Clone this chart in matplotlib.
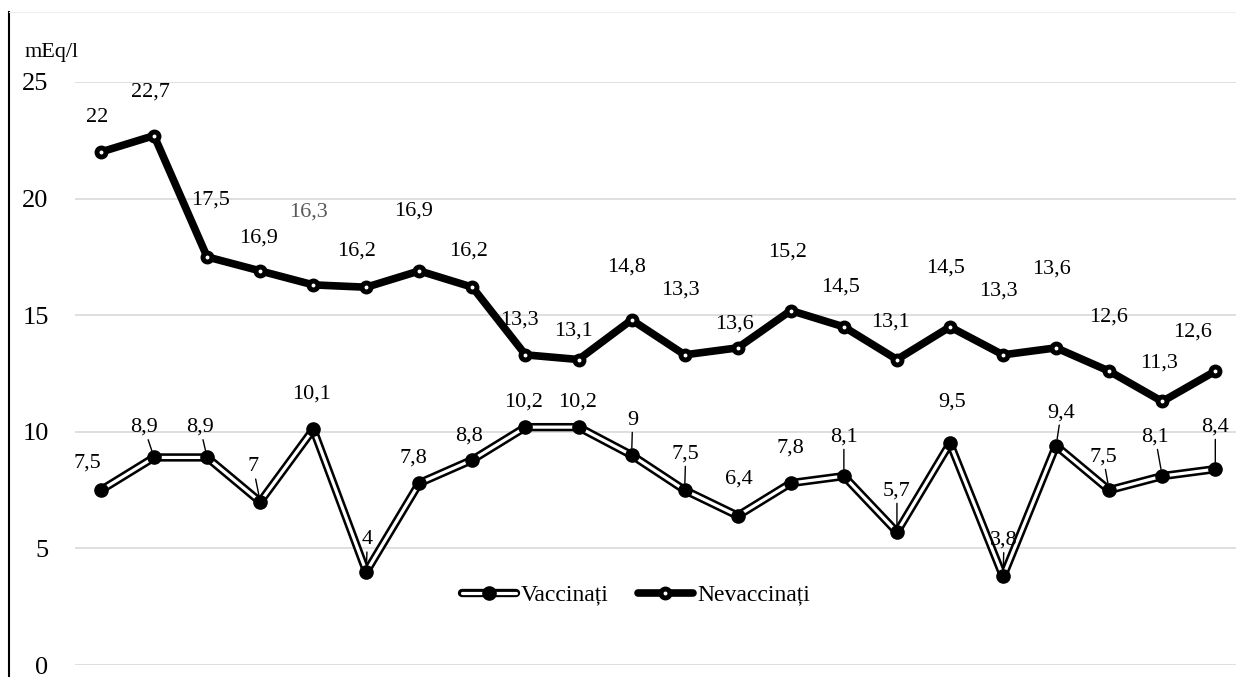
import matplotlib.pyplot as plt
from matplotlib.lines import Line2D
from matplotlib.legend_handler import HandlerTuple

# date
vaccinati = [7.5, 8.9, 8.9, 7, 10.1, 4, 7.8, 8.8, 10.2, 10.2, 9, 7.5,
             6.4, 7.8, 8.1, 5.7, 9.5, 3.8, 9.4, 7.5, 8.1, 8.4]
nevaccinati = [22, 22.7, 17.5, 16.9, 16.3, 16.2, 16.9, 16.2, 13.3, 13.1, 14.8,
               13.3, 13.6, 15.2, 14.5, 13.1, 14.5, 13.3, 13.6, 12.6, 11.3, 12.6]
y_ticks = [0, 5, 10, 15, 20, 25]

# deplasari etichete (pixeli)
off_nev = [(-4, 34), (-4, 44), (3, 57), (-2, 33), (-5, 73), (-10, 36), (-6, 60),
           (-4, 36), (-6, 35), (-5, 28), (-5, 53), (-4, 65), (-3, 24), (-3, 58),
           (-3, 40), (-6, 37), (-4, 59), (-5, 64), (-5, 79), (-1, 54), (-3, 38),
           (-23, 39)]
off_vac = [(-14, 27), (-10, 30), (-7, 30), (-7, 35), (-2, 35), (1, 32), (-6, 25),
           (-3, 24), (-2, 25), (-1, 25), (1, 35), (1, 36), (1, 37), (0, 35),
           (0, 39), (0, 41), (2, 41), (1, 36), (5, 33), (-6, 33), (-7, 39), (0, 42)]
leader_vac = [0, 1, 1, 1, 0, 1, 0, 0, 0, 0, 1, 1, 0, 0, 1, 1, 0, 1, 1, 1, 1, 1]

plt.rcParams['font.family'] = ['Liberation Serif', 'DejaVu Serif']

fig = plt.figure(figsize=(12.36, 6.77), dpi=100)
ax = fig.add_axes([75 / 1236, 12 / 677, 1 - 75 / 1236, (665 - 82) / 677])

x = list(range(len(vaccinati)))

# Nevaccinati - linie groasa
ax.plot(x, nevaccinati, color='black', lw=5.5, solid_capstyle='round',
        solid_joinstyle='round', zorder=3)
ax.plot(x, nevaccinati, 'o', color='black', ms=9, zorder=4)
ax.plot(x, nevaccinati, 'o', color='white', ms=1.8, zorder=5)

# Vaccinati - linie dubla
ax.plot(x, vaccinati, color='black', lw=6, solid_joinstyle='round', zorder=3)
ax.plot(x, vaccinati, color='white', lw=2.3, solid_joinstyle='round', zorder=4)
ax.plot(x, vaccinati, 'o', color='black', ms=9.5, zorder=5)

for i, v in enumerate(nevaccinati):
    col = '#595959' if i == 4 else 'black'
    ax.annotate(str(v).replace('.', ','), (i, v), xytext=off_nev[i],
                textcoords='offset pixels', ha='center', va='center',
                fontsize=16, color=col, zorder=6)

for i, v in enumerate(vaccinati):
    arrow = dict(arrowstyle='-', color='black', lw=1, shrinkA=0, shrinkB=5) if leader_vac[i] else None
    ax.annotate(str(v).replace('.', ','), (i, v), xytext=off_vac[i],
                textcoords='offset pixels', ha='center', va='center',
                fontsize=16, arrowprops=arrow, zorder=6)

ax.set_xlim(-0.49, 21.39)
ax.set_ylim(0, 25)
ax.set_yticks(y_ticks)
ax.set_yticklabels([str(t) for t in y_ticks], fontsize=19)
ax.tick_params(axis='y', length=0, pad=19)
ax.set_xticks([])
ax.grid(axis='y', color='#d9d9d9', lw=1.2)
ax.set_axisbelow(True)
for s in ax.spines.values():
    s.set_visible(False)

# axa verticala si unitatea de masura
fig.add_artist(Line2D([9 / 1236, 9 / 1236], [0, 1 - 12 / 677], color='black', lw=1.5))
fig.add_artist(Line2D([9 / 1236, 1], [1 - 12 / 677, 1 - 12 / 677], color='#eeeeee', lw=0.8))
fig.text(25 / 1236, 1 - 57 / 677, 'mEq/l', fontsize=16, va='baseline', ha='left')

h_vac = (Line2D([], [], color='black', lw=6, solid_capstyle='round'),
         Line2D([], [], color='white', lw=2.3, solid_capstyle='round'),
         Line2D([], [], marker='o', color='black', ms=9.5, ls='none'))
h_nev = (Line2D([], [], color='black', lw=5.5, solid_capstyle='round'),
         Line2D([], [], marker='o', color='black', ms=9, ls='none'),
         Line2D([], [], marker='o', color='white', ms=1.8, ls='none'))
ax.legend([h_vac, h_nev], ['Vaccinați', 'Nevaccinați'],
          handler_map={tuple: HandlerTuple(ndivide=1)},
          loc='center', bbox_to_anchor=((636 - 75) / 1161, (665 - 595) / 583),
          ncol=2, frameon=False, fontsize=17, handlelength=2.3,
          handletextpad=0.2, columnspacing=1.25)

fig.savefig('out.png', dpi=100)
